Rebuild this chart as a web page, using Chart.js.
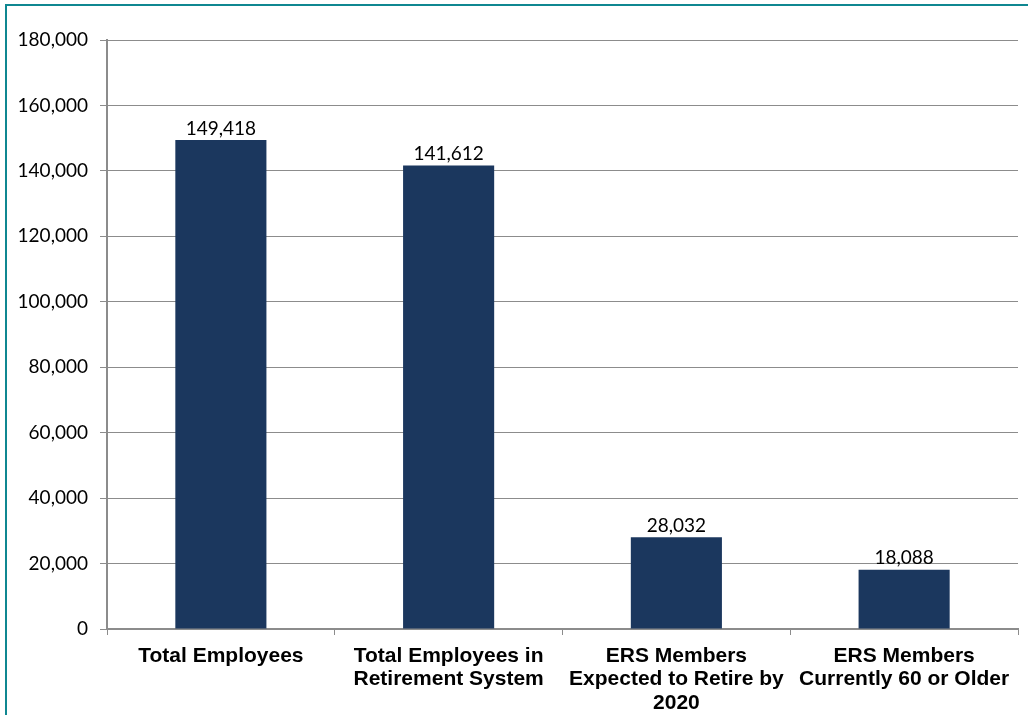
<!DOCTYPE html>
<html>
<head>
<meta charset="utf-8">
<script src="https://cdn.jsdelivr.net/npm/chart.js@4/dist/chart.umd.min.js"></script>
<style>
  body { margin: 0; background: #fff; overflow: hidden; }
  #frame {
    position: absolute; left: 5px; top: 4px; width: 1040px; height: 740px;
    border: 2px solid #0f8791; box-sizing: border-box;
  }
  #wrap { position: absolute; left: 0; top: 0; width: 1028px; height: 715px; }
</style>
</head>
<body>
<div id="frame"></div>
<div id="wrap"><canvas id="chart" width="1028" height="715"></canvas></div>
<script>
// --- DATA ---
const categories = [
  ["Total Employees"],
  ["Total Employees in", "Retirement System"],
  ["ERS Members", "Expected to Retire by", "2020"],
  ["ERS Members", "Currently 60 or Older"]
];
const employeeCounts = [149418, 141612, 28032, 18088];
const yTicks = [0, 20000, 40000, 60000, 80000, 100000, 120000, 140000, 160000, 180000];

const fmt = new Intl.NumberFormat("en-US");

// value labels above each bar
const valueLabels = {
  id: "valueLabels",
  afterDatasetsDraw(chart) {
    const ctx = chart.ctx;
    const meta = chart.getDatasetMeta(0);
    ctx.save();
    ctx.font = "19px Lato";
    ctx.fillStyle = "#000";
    ctx.textAlign = "center";
    ctx.textBaseline = "bottom";
    meta.data.forEach((bar, i) => {
      ctx.fillText(fmt.format(employeeCounts[i]), bar.x, bar.y - 2);
    });
    ctx.restore();
  }
};

new Chart(document.getElementById("chart"), {
  type: "bar",
  data: {
    labels: categories,
    datasets: [{
      data: employeeCounts,
      backgroundColor: "#1b375e",
      barPercentage: 0.4,
      categoryPercentage: 1
    }]
  },
  options: {
    responsive: false,
    animation: false,
    layout: { padding: { top: 40, right: 10, left: 0, bottom: 0 } },
    plugins: { legend: { display: false }, tooltip: { enabled: false } },
    scales: {
      x: {
        afterFit: (s) => { s.height = 86; },
        grid: { drawOnChartArea: false, drawTicks: true, tickLength: 6, color: "#8c8c8c", offset: true },
        border: { color: "#8c8c8c", width: 2 },
        ticks: {
          color: "#000",
          font: { family: "Liberation Sans", weight: "bold", size: 21, lineHeight: 1.1 },
          padding: 10,
          maxRotation: 0,
          autoSkip: false
        }
      },
      y: {
        min: 0,
        max: 180000,
        afterFit: (s) => { s.width = 107; },
        afterBuildTicks: (s) => { s.ticks = yTicks.map((v) => ({ value: v })); },
        grid: { color: "#8c8c8c", tickLength: 7 },
        border: { color: "#8c8c8c", width: 2 },
        ticks: {
          color: "#000",
          font: { family: "Lato", size: 19 },
          padding: 12,
          callback: (v) => fmt.format(v)
        }
      }
    }
  },
  plugins: [valueLabels]
});
</script>
</body>
</html>
